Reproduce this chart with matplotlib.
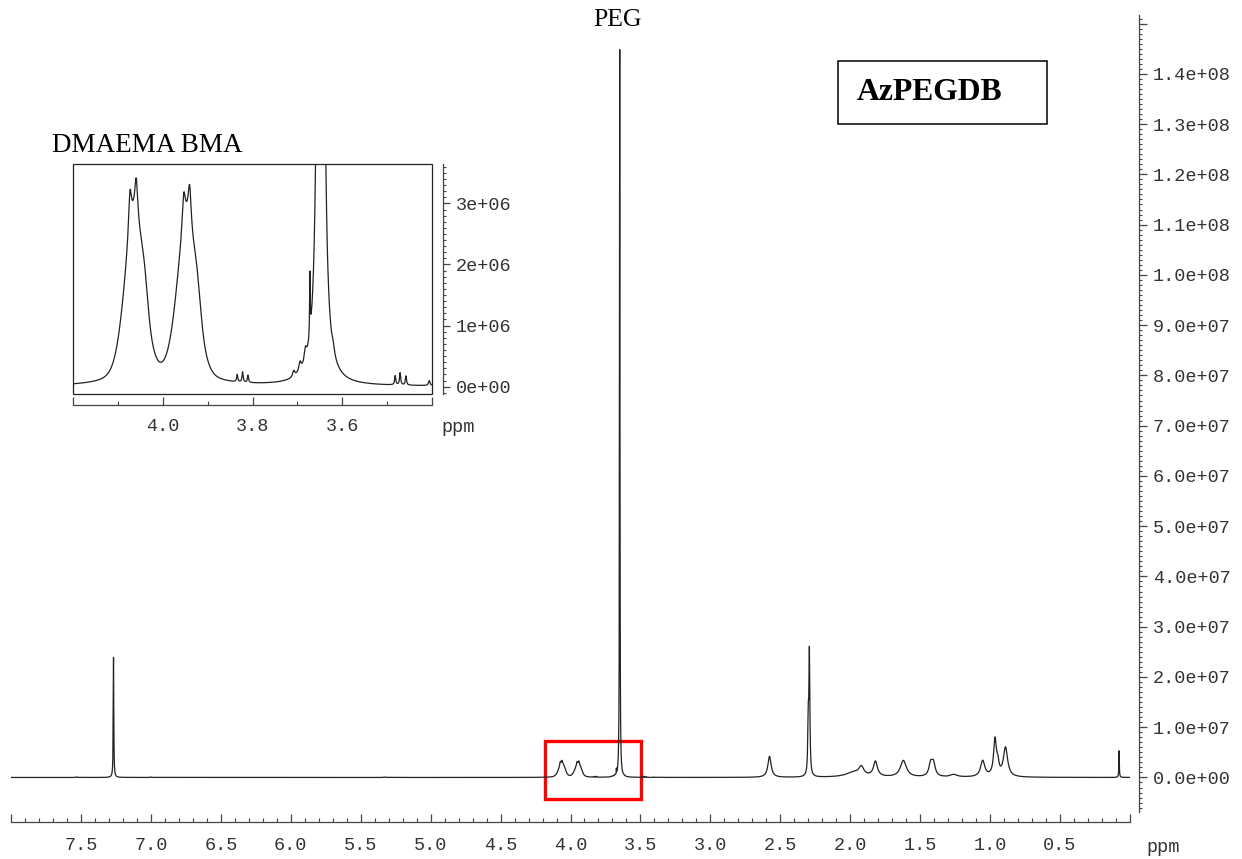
import numpy as np
import matplotlib
matplotlib.use("Agg")
import matplotlib.pyplot as plt
from matplotlib.ticker import FixedLocator, MultipleLocator, FuncFormatter
from matplotlib.patches import Rectangle

# peak table: shift (ppm), height, half width (ppm), line shape
peak_ppm = [7.530, 7.267, 7.000, 5.330,
            4.063, 4.063, 4.073, 4.059, 4.040,
            3.946, 3.946, 3.953, 3.940, 3.922,
            3.834, 3.822, 3.810,
            3.708, 3.694, 3.682, 3.672, 3.648, 3.620,
            3.482, 3.471, 3.458, 3.406,
            2.577, 2.300, 2.292, 1.970, 1.920, 1.820, 1.620,
            1.425, 1.405, 1.260, 1.053, 0.965, 0.945, 0.890, 0.078]
peak_height = [0.012e7, 2.39e7, 0.012e7, 0.010e7,
               2.0e6, 0.7e6, 0.7e6, 0.65e6, 0.3e6,
               1.95e6, 0.7e6, 0.55e6, 0.65e6, 0.3e6,
               0.12e6, 0.17e6, 0.12e6,
               0.10e6, 0.15e6, 0.20e6, 1.0e6, 1.448e8, 0.10e6,
               0.15e6, 0.20e6, 0.15e6, 0.08e6,
               0.42e7, 1.0e7, 2.4e7, 0.10e7, 0.16e7, 0.30e7, 0.33e7,
               0.25e7, 0.25e7, 0.05e7, 0.32e7, 0.72e7, 0.20e7, 0.58e7, 0.53e7]
peak_width = [0.004, 0.0022, 0.004, 0.005,
              0.025, 0.03, 0.004, 0.004, 0.008,
              0.025, 0.03, 0.004, 0.004, 0.008,
              0.0015, 0.0015, 0.0015,
              0.003, 0.003, 0.003, 0.0008, 0.00185, 0.003,
              0.0015, 0.0015, 0.0015, 0.002,
              0.014, 0.004, 0.004, 0.07, 0.02, 0.017, 0.026,
              0.015, 0.015, 0.03, 0.018, 0.012, 0.01, 0.018, 0.002]
peak_shape = ["L", "L", "L", "L",
              "G", "L", "L", "L", "G",
              "G", "L", "L", "L", "G",
              "L", "L", "L",
              "L", "L", "L", "L", "L", "L",
              "L", "L", "L", "L",
              "L", "L", "L", "L", "L", "L", "L",
              "L", "L", "L", "L", "L", "L", "L", "L"]

main_xticks = [8.0, 7.5, 7.0, 6.5, 6.0, 5.5, 5.0, 4.5, 4.0, 3.5, 3.0, 2.5, 2.0, 1.5, 1.0, 0.5, 0.0]
main_yticks = [0, 1e7, 2e7, 3e7, 4e7, 5e7, 6e7, 7e7, 8e7, 9e7, 1e8, 1.1e8, 1.2e8, 1.3e8, 1.4e8, 1.5e8]
inset_xticks = [4.2, 4.0, 3.8, 3.6, 3.4]
inset_yticks = [0, 1e6, 2e6, 3e6]

ppm = np.linspace(0.0, 8.0, 160001)
intensity = np.zeros_like(ppm)
for c, h, w, s in zip(peak_ppm, peak_height, peak_width, peak_shape):
    if s == "G":
        intensity += h * np.exp(-np.log(2) * ((ppm - c) / w) ** 2)
    else:
        intensity += h / (1 + ((ppm - c) / w) ** 2)

W, H = 1242, 859
def rect(l, t, r, b):
    return [l / W, 1 - b / H, (r - l) / W, (b - t) / H]

mono = "Liberation Mono"
serif = "Liberation Serif"
gray = "#444444"
txt = "#333333"

fig = plt.figure(figsize=(W / 100, H / 100), dpi=100)

# main spectrum
ax = fig.add_axes(rect(11, 15, 1130, 812))
ax.plot(ppm, intensity, color="#222222", lw=0.9)
ax.set_xlim(8.0, 0.0)
ax.set_ylim(-0.687e7, 15.17e7)
ax.patch.set_alpha(0)
ax.spines["top"].set_visible(False)
ax.spines["left"].set_visible(False)
ax.spines["bottom"].set_position(("outward", 7.2))
ax.spines["right"].set_position(("outward", 6.5))
for s in ["bottom", "right"]:
    ax.spines[s].set_color(gray)
    ax.spines[s].set_linewidth(0.9)
ax.xaxis.set_major_locator(FixedLocator(main_xticks))
ax.xaxis.set_minor_locator(MultipleLocator(0.1))
ax.xaxis.set_major_formatter(FuncFormatter(lambda v, p: "" if v in (0.0, 8.0) else "%.1f" % v))
ax.yaxis.tick_right()
ax.yaxis.set_major_locator(FixedLocator(main_yticks))
ax.yaxis.set_minor_locator(MultipleLocator(1e6))
ax.yaxis.set_major_formatter(FuncFormatter(lambda v, p: "" if v > 1.45e8 else "%.1e" % v))
ax.tick_params(axis="x", which="major", direction="in", length=6, width=0.9, pad=11, color=gray)
ax.tick_params(axis="x", which="minor", direction="in", length=3, width=0.8, color=gray)
ax.tick_params(axis="y", which="major", direction="out", length=6, width=0.9, pad=4, color=gray)
ax.tick_params(axis="y", which="minor", direction="out", length=2.5, width=0.8, color=gray)
for lab in ax.get_xticklabels() + ax.get_yticklabels():
    lab.set_fontfamily(mono)
    lab.set_fontsize(13.3)
    lab.set_color(txt)

# red box around the zoomed region
zoom_lo, zoom_hi = 3.497, 4.183
ax.add_patch(Rectangle((zoom_lo, -0.434e7), zoom_hi - zoom_lo, 1.166e7,
                       fill=False, edgecolor="red", lw=2.4, clip_on=False))

# inset
axi = fig.add_axes(rect(73, 164, 432, 394))
axi.plot(ppm, intensity, color="#222222", lw=0.9)
axi.set_xlim(4.2, 3.4)
axi.set_ylim(-0.12e6, 3.645e6)
axi.spines["top"].set_visible(False)
axi.spines["left"].set_visible(False)
axi.spines["bottom"].set_position(("outward", 8))
axi.spines["right"].set_position(("outward", 8))
for s in ["bottom", "right"]:
    axi.spines[s].set_color(gray)
    axi.spines[s].set_linewidth(0.9)
axi.add_patch(Rectangle((0, 0), 1, 1, transform=axi.transAxes, fill=False,
                        edgecolor="#222222", lw=0.9, clip_on=False))
axi.xaxis.set_major_locator(FixedLocator(inset_xticks))
axi.xaxis.set_minor_locator(MultipleLocator(0.1))
axi.xaxis.set_major_formatter(FuncFormatter(lambda v, p: "" if abs(v - 4.2) < 1e-6 or abs(v - 3.4) < 1e-6 else "%.1f" % v))
axi.yaxis.tick_right()
axi.yaxis.set_major_locator(FixedLocator(inset_yticks))
axi.yaxis.set_minor_locator(MultipleLocator(1e5))
axi.yaxis.set_major_formatter(FuncFormatter(lambda v, p: "%.0e" % v))
axi.tick_params(axis="x", which="major", direction="in", length=6, width=0.9, pad=9, color=gray)
axi.tick_params(axis="x", which="minor", direction="in", length=3, width=0.8, color=gray)
axi.tick_params(axis="y", which="major", direction="out", length=5, width=0.9, pad=4, color=gray)
axi.tick_params(axis="y", which="minor", direction="out", length=2, width=0.8, color=gray)
for lab in axi.get_xticklabels() + axi.get_yticklabels():
    lab.set_fontfamily(mono)
    lab.set_fontsize(13.3)
    lab.set_color(txt)

# axis unit labels and annotations
fig.text(458 / W, 1 - 427 / H, "ppm", family=mono, fontsize=13.3, color=txt, ha="center", va="center")
fig.text(1163 / W, 1 - 848 / H, "ppm", family=mono, fontsize=13.3, color=txt, ha="center", va="center")
fig.text(618 / W, 1 - 20 / H, "PEG", family=serif, fontsize=18.5, ha="center", va="center")
fig.text(52 / W, 1 - 146 / H, "DMAEMA BMA", family=serif, fontsize=19.5, ha="left", va="center")
fig.add_artist(Rectangle((838 / W, 1 - 124 / H), (1047 - 838) / W, (124 - 61) / H,
                         transform=fig.transFigure, fill=False, edgecolor="black", lw=1.1))
fig.text(857 / W, 1 - 93 / H, "AzPEGDB", family=serif, fontsize=22.8, fontweight="bold", ha="left", va="center")

fig.savefig("out.png", dpi=100)
